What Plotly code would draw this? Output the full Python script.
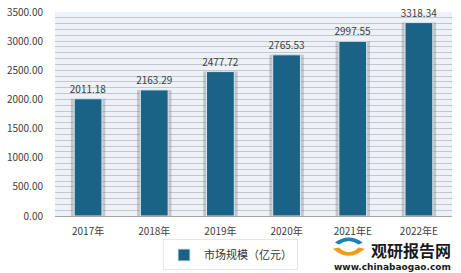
import plotly.graph_objects as go

categories = ["2017年", "2018年", "2019年", "2020年", "2021年E", "2022年E"]
values = [2011.18, 2163.29, 2477.72, 2765.53, 2997.55, 3318.34]
labels = ["2011.18", "2163.29", "2477.72", "2765.53", "2997.55", "3318.34"]
y_ticks = [0, 500, 1000, 1500, 2000, 2500, 3000, 3500]
series_name = "市场规模（亿元）"

FONT = "Noto Sans CJK SC, Liberation Sans, sans-serif"
BAR = "#1b6386"

fig = go.Figure()
# soft shadow behind bars
fig.add_trace(go.Bar(
    x=categories, y=values, width=0.52, marker=dict(color="rgba(120,120,120,0.35)", line=dict(width=0)),
    showlegend=False, hoverinfo="skip"))
fig.add_trace(go.Bar(
    x=categories, y=values, name=series_name, width=0.42,
    marker=dict(color=BAR, line=dict(color="#dfe6ec", width=1)),
    text=labels, textposition="outside", cliponaxis=False, constraintext="none",
    textfont=dict(size=10, color="#404040", family=FONT)))

fig.update_layout(
    width=461, height=273,
    margin=dict(l=55, r=9, t=12, b=57, autoexpand=False),
    paper_bgcolor="white", plot_bgcolor="#ecf2f7",
    barmode="overlay",
    font=dict(family=FONT, size=10, color="#404040"),
    showlegend=True,
    legend=dict(orientation="h", xref="container", yref="container",
                x=0.5, xanchor="center", y=0.066, yanchor="middle",
                bgcolor="white", bordercolor="#e6e6e6", borderwidth=1,
                font=dict(size=11, color="#333333", family=FONT)),
    xaxis=dict(showgrid=False, showline=True, linecolor="#a6a6a6", linewidth=1,
               ticks="outside", ticklen=6, tickcolor="rgba(0,0,0,0)",
               tickfont=dict(size=10, color="#404040"), automargin=False),
    yaxis=dict(range=[0, 3500], tickvals=y_ticks, tickformat=".2f",
               showgrid=True, gridcolor="#c4c8cc", gridwidth=1,
               minor=dict(dtick=100, showgrid=True, gridcolor="#c4c8cc", gridwidth=1),
               zeroline=False, ticks="outside", ticklen=9, tickcolor="rgba(0,0,0,0)",
               automargin=False,
               tickfont=dict(size=10, color="#404040")),
)

# watermark text
fig.add_annotation(xref="paper", yref="paper", x=1.0, xanchor="right", y=-0.165, yanchor="middle",
                   text="<b>观研报告网</b>", showarrow=False, borderpad=0,
                   font=dict(size=16, color="#1a1a1a", family=FONT))
fig.add_annotation(xref="paper", yref="paper", x=1.0, xanchor="right", y=-0.25, yanchor="middle",
                   text="<b>www.chinabaogao.com</b>", showarrow=False, borderpad=0,
                   font=dict(size=9, color="#1a1a1a", family="DejaVu Sans, sans-serif"))
# logo icon
fig.add_shape(type="path", xref="paper", yref="paper",
              path="M 0.705 -0.13 Q 0.74 -0.08 0.775 -0.13 L 0.765 -0.14 Q 0.74 -0.105 0.715 -0.14 Z",
              fillcolor="#1f7fb8", line=dict(width=0))
fig.add_shape(type="path", xref="paper", yref="paper",
              path="M 0.70 -0.16 Q 0.74 -0.23 0.78 -0.16 L 0.765 -0.155 Q 0.74 -0.20 0.715 -0.155 Z",
              fillcolor="#f29a1b", line=dict(width=0))

fig.write_html("out.html")
